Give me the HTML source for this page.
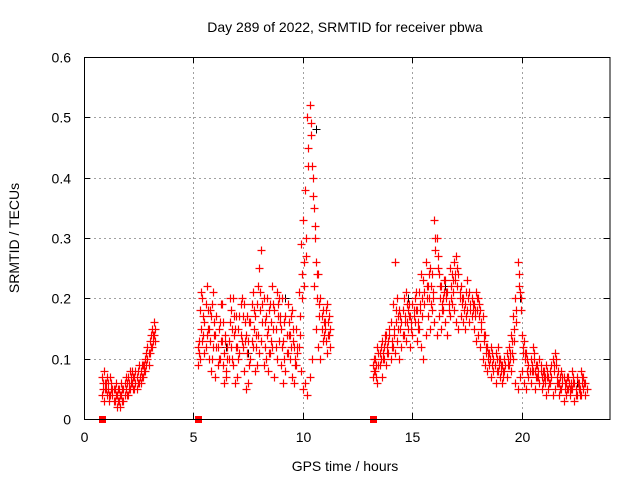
<!DOCTYPE html>
<html><head><meta charset="utf-8"><style>
body{margin:0;background:#fff}
svg text{font-family:"Liberation Sans",sans-serif;font-size:14px;fill:#000}
</style></head><body>
<svg id="chart" width="640" height="480" xmlns="http://www.w3.org/2000/svg">
<rect width="640" height="480" fill="#fff"/>
<text x="345" y="32" text-anchor="middle">Day 289 of 2022, SRMTID for receiver pbwa</text>
<g id="grid"></g>
<g id="marks"></g>
<g id="axes"></g>
<text x="345" y="471" text-anchor="middle">GPS time / hours</text>
<text transform="translate(19,238) rotate(-90)" text-anchor="middle">SRMTID / TECUs</text>
</svg>
<script>
const xTicks=[0,5,10,15,20];
const yTicks=[0,0.1,0.2,0.3,0.4,0.5,0.6];
const yTickLabels=["0","0.1","0.2","0.3","0.4","0.5","0.6"];
const seg1Start=0.8;
const seg1A=[0.07,0.08,0.06,0.05,0.04,0.05,0.03,0.04,0.05,0.04,0.03,0.05,0.07,0.08,0.06,0.05,0.07,0.06,0.08,0.07,0.10,0.12,0.11,0.15,0.14];
const seg1B=[0.04,0.03,0.05,0.06,0.07,0.04,0.05,0.02,0.03,0.06,0.05,0.07,0.04,0.05,0.08,0.07,0.05,0.09,0.06,0.09,0.08,0.10,0.13,0.12,0.16];
const seg1C=[0.06,0.05,0.04,0.03,0.06,0.05,0.04,0.05,0.02,0.03,0.04,0.06,0.05,0.06,0.07,0.06,0.08,0.07,0.07,0.09,0.09,0.11,0.14,0.13,0.15];
const seg1D=[0.05,0.06,0.07,0.04,0.05,0.03,0.06,0.03,0.04,0.05,0.06,0.04,0.06,0.07,0.05,0.08,0.06,0.07,0.09,0.08,0.11,0.09,0.12,0.14,0.13];
const seg2Start=5.2;
const seg2A=[0.12,0.18,0.20,0.16,0.22,0.15,0.17,0.21,0.14,0.12,0.16,0.19,0.11,0.08,0.13,0.18,0.20,0.15,0.12,0.17,0.20,0.19,0.14,0.13,0.16,0.21,0.17,0.19,0.25,0.28,0.20,0.17,0.15,0.19,0.22,0.18,0.21,0.20,0.15,0.13,0.17,0.19,0.14,0.18,0.12,0.15,0.21,0.29,0.33,0.38,0.50,0.52,0.42,0.35,0.26,0.24,0.20,0.18,0.16,0.19,0.17];
const seg2B=[0.09,0.10,0.13,0.11,0.14,0.10,0.08,0.12,0.07,0.09,0.10,0.13,0.06,0.07,0.10,0.12,0.09,0.06,0.07,0.11,0.13,0.08,0.05,0.06,0.10,0.12,0.08,0.09,0.11,0.13,0.09,0.10,0.08,0.11,0.12,0.07,0.10,0.13,0.09,0.06,0.08,0.11,0.10,0.07,0.06,0.09,0.12,0.08,0.05,0.06,0.04,0.07,0.10,0.22,0.15,0.12,0.10,0.13,0.15,0.11,0.14];
const seg2C=[0.11,0.15,0.14,0.12,0.18,0.13,0.10,0.16,0.12,0.15,0.13,0.09,0.14,0.12,0.16,0.10,0.14,0.17,0.10,0.14,0.12,0.16,0.11,0.09,0.13,0.15,0.12,0.14,0.18,0.16,0.12,0.14,0.11,0.16,0.15,0.12,0.17,0.16,0.12,0.10,0.14,0.16,0.12,0.15,0.10,0.12,0.17,0.24,0.26,0.30,0.45,0.47,0.37,0.30,0.20,0.17,0.15,0.14,0.13,0.16,0.15];
const seg2D=[0.13,0.21,0.17,0.19,0.15,0.18,0.19,0.14,0.17,0.10,0.19,0.16,0.13,0.10,0.20,0.15,0.17,0.12,0.15,0.19,0.17,0.13,0.17,0.16,0.19,0.18,0.14,0.22,0.21,0.19,0.16,0.20,0.18,0.13,0.19,0.15,0.19,0.17,0.20,0.16,0.11,0.14,0.17,0.13,0.09,0.11,0.14,0.20,0.22,0.27,0.42,0.49,0.40,0.32,0.24,0.19,0.17,0.16,0.18,0.14,0.12];
const seg3Start=13.2;
const seg3A=[0.09,0.10,0.12,0.11,0.13,0.12,0.14,0.13,0.16,0.19,
0.26,0.20,0.18,0.16,0.20,0.21,0.18,0.17,0.19,0.20,
0.18,0.21,0.24,0.23,0.26,0.22,0.25,0.24,0.33,0.30,
0.24,0.22,0.20,0.23,0.21,0.25,0.24,0.26,0.27,0.24,
0.22,0.20,0.19,0.23,0.21,0.20,0.19,0.21,0.20,0.18,
0.17,0.14,0.12,0.11,0.12,0.10,0.11,0.12,0.10,0.09,
0.10,0.11,0.12,0.14,0.17,0.20,0.26,0.21,0.14,0.13,
0.11,0.09,0.10,0.12,0.08,0.09,0.10,0.07,0.08,0.09,
0.07,0.08,0.10,0.11,0.07,0.06,0.08,0.07,0.06,0.07,
0.05,0.08,0.06,0.07,0.05,0.08,0.07,0.06];
const seg3B=[0.07,0.08,0.06,0.09,0.07,0.10,0.09,0.11,0.10,0.12,
0.11,0.13,0.10,0.12,0.14,0.13,0.15,0.12,0.14,0.16,
0.13,0.15,0.12,0.10,0.14,0.17,0.15,0.18,0.16,0.14,
0.17,0.15,0.18,0.16,0.14,0.17,0.19,0.18,0.16,0.15,
0.17,0.16,0.15,0.18,0.16,0.17,0.15,0.13,0.14,0.12,
0.10,0.09,0.08,0.09,0.07,0.08,0.06,0.08,0.07,0.06,
0.08,0.07,0.09,0.08,0.10,0.06,0.05,0.07,0.08,0.06,
0.05,0.07,0.06,0.08,0.05,0.07,0.06,0.05,0.07,0.04,
0.05,0.06,0.04,0.05,0.06,0.04,0.05,0.03,0.04,0.05,
0.04,0.05,0.03,0.04,0.06,0.04,0.05,0.04];
const seg3C=[0.08,0.09,0.11,0.10,0.11,0.14,0.12,0.15,0.13,0.15,
0.16,0.17,0.15,0.18,0.17,0.16,0.19,0.15,0.17,0.18,
0.16,0.18,0.20,0.19,0.22,0.20,0.19,0.21,0.28,0.25,
0.20,0.19,0.21,0.20,0.18,0.22,0.21,0.23,0.22,0.21,
0.20,0.18,0.17,0.20,0.19,0.18,0.17,0.18,0.17,0.15,
0.14,0.12,0.10,0.10,0.09,0.09,0.08,0.10,0.08,0.08,
0.09,0.09,0.10,0.11,0.13,0.16,0.22,0.18,0.11,0.10,
0.08,0.08,0.08,0.10,0.07,0.08,0.08,0.06,0.07,0.08,
0.06,0.07,0.08,0.09,0.06,0.05,0.06,0.06,0.05,0.06,
0.05,0.06,0.05,0.06,0.04,0.06,0.06,0.05];
const seg3D=[0.10,0.07,0.09,0.12,0.10,0.13,0.11,0.14,0.12,0.14,
0.18,0.15,0.17,0.14,0.16,0.19,0.17,0.16,0.18,0.21,
0.15,0.19,0.17,0.21,0.20,0.24,0.22,0.20,0.30,0.27,
0.22,0.18,0.23,0.21,0.19,0.20,0.23,0.24,0.25,0.20,
0.19,0.18,0.21,0.20,0.18,0.19,0.18,0.20,0.19,0.16,
0.13,0.11,0.11,0.10,0.11,0.09,0.10,0.09,0.09,0.07,
0.09,0.10,0.11,0.13,0.15,0.18,0.24,0.20,0.12,0.11,
0.10,0.08,0.09,0.11,0.09,0.07,0.09,0.08,0.06,0.07,
0.06,0.09,0.09,0.10,0.08,0.07,0.07,0.05,0.07,0.06,
0.06,0.07,0.04,0.06,0.05,0.07,0.06,0.05];
const blackTimes=[1.5,2.5,6.5,7.5,9.2,10.6,14.8,15.3,16.5,19.9,21.0,22.5];
const blackValues=[0.04,0.09,0.12,0.11,0.20,0.48,0.20,0.21,0.22,0.20,0.08,0.06];
const gapTimes=[0.8,5.2,13.2];
const step=0.1;

const L=84,R=609.5,T=57,B=419,xMax=24,yMax=0.6;
const sx=t=>L+t/xMax*(R-L);
const sy=v=>B-v/yMax*(B-T);
const NS="http://www.w3.org/2000/svg";
function mk(tag,parent){const e=document.createElementNS(NS,tag);parent.appendChild(e);return e;}
const grid=document.getElementById('grid'),axes=document.getElementById('axes'),marks=document.getElementById('marks');
xTicks.forEach(t=>{
 const x=Math.round(sx(t))+0.5;
 if(t>0){const g=mk('line',grid);
 
 
 g.setAttribute('x1',x);g.setAttribute('x2',x);g.setAttribute('y1',T);g.setAttribute('y2',B);g.setAttribute('stroke','#a0a0a0');g.setAttribute('stroke-dasharray','2,3');}
 const tk=mk('path',axes);
 
 
 tk.setAttribute('d',`M${x},${B}v-6M${x},${T}v6`);tk.setAttribute('stroke','#000');
 const lb=mk('text',axes);
 
 
 lb.setAttribute('x',x);lb.setAttribute('y',442);lb.setAttribute('text-anchor','middle');lb.textContent=t;
});
yTicks.forEach((v,i)=>{
 const y=Math.round(sy(v))+0.5;
 if(v>0&&v<yMax){const g=mk('line',grid);
 
 
 g.setAttribute('x1',L);g.setAttribute('x2',R);g.setAttribute('y1',y);g.setAttribute('y2',y);g.setAttribute('stroke','#a0a0a0');g.setAttribute('stroke-dasharray','2,3');}
 const tk=mk('path',axes);
 
 
 tk.setAttribute('d',`M${L},${y}h6M${R},${y}h-6`);tk.setAttribute('stroke','#000');
 const lb=mk('text',axes);
 
 
 lb.setAttribute('x',71);lb.setAttribute('y',y+5);lb.setAttribute('text-anchor','end');lb.textContent=yTickLabels[i];
});
const frame=mk('rect',axes);


frame.setAttribute('x',L+0.5);frame.setAttribute('y',T+0.5);frame.setAttribute('width',R-L);frame.setAttribute('height',B-T);frame.setAttribute('fill','none');frame.setAttribute('stroke','#000');
let dRed='',dBlack='';
const plus=(t,v)=>{const x=Math.round(sx(t))+0.5,y=Math.round(sy(v))+0.5;return `M${x-4},${y}h8M${x},${y-4}v8`;};
[[seg1Start,seg1A,0],[seg1Start,seg1B,0],[seg1Start,seg1C,0.05],[seg1Start,seg1D,0.05],
 [seg2Start,seg2A,0],[seg2Start,seg2B,0],[seg2Start,seg2C,0.05],[seg2Start,seg2D,0.05],
 [seg3Start,seg3A,0],[seg3Start,seg3B,0],[seg3Start,seg3C,0.05],[seg3Start,seg3D,0.05]].forEach(([s,arr,off])=>{
 arr.forEach((v,i)=>{dRed+=plus(s+off+i*step,v);});
});
blackTimes.forEach((t,i)=>{dBlack+=plus(t,blackValues[i]);});
const pb=mk('path',marks);


pb.setAttribute('d',dBlack);pb.setAttribute('stroke','#000');pb.setAttribute('fill','none');
const pr=mk('path',marks);


pr.setAttribute('d',dRed);pr.setAttribute('stroke','#ff0000');pr.setAttribute('stroke-width','1.2');pr.setAttribute('fill','none');
gapTimes.forEach(t=>{
 const r=mk('rect',marks);
 
 
 r.setAttribute('x',Math.round(sx(t))-3);r.setAttribute('y',B-3);r.setAttribute('width',7);r.setAttribute('height',7);r.setAttribute('fill','#f00');
});
</script>
</body></html>
